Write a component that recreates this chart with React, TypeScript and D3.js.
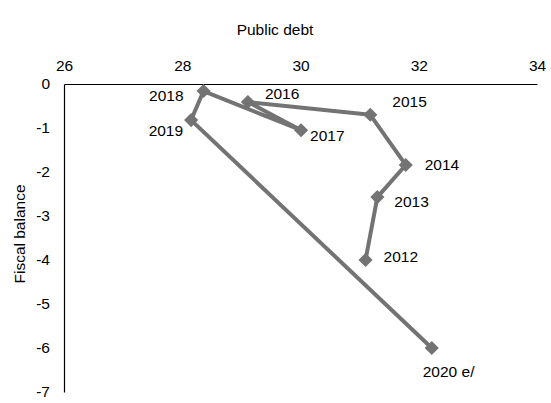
import React, { useEffect, useRef } from "react";
import * as d3 from "d3";

// Data
const years = ["2012", "2013", "2014", "2015", "2016", "2017", "2018", "2019", "2020 e/"];
const publicDebt = [31.1, 31.3, 31.78, 31.18, 29.11, 30.01, 28.36, 28.15, 32.22];
const fiscalBalance = [-4.0, -2.57, -1.84, -0.7, -0.41, -1.05, -0.16, -0.82, -6.0];
const xTicks = [26, 28, 30, 32, 34];
const yTicks = [0, -1, -2, -3, -4, -5, -6, -7];

// label placement around each marker: [dx, dy, anchor]
const labelOffsets: [number, number, string][] = [
  [18, -3, "start"],
  [17, 4, "start"],
  [19, 0, "start"],
  [22, -13, "start"],
  [17, -8, "start"],
  [9, 5, "start"],
  [-20, 5, "end"],
  [-8, 10, "end"],
  [-9, 24, "start"],
];

const WIDTH = 551;
const HEIGHT = 403;
const FONT = "'Liberation Sans', Arial, sans-serif";
const GREY = "#737373";

export default function App() {
  const svgRef = useRef<SVGSVGElement>(null);

  useEffect(() => {
    if (!svgRef.current) return;
    const svg = d3.select(svgRef.current);
    svg.selectAll("*").remove();

    const left = 64;
    const right = 537;
    const top = 84;
    const bottom = 392;

    const x = d3.scaleLinear().domain([26, 34]).range([left, right]);
    const y = d3.scaleLinear().domain([0, -7]).range([top, bottom]);

    const points = years.map((yr, i) => ({
      year: yr,
      debt: publicDebt[i],
      balance: fiscalBalance[i],
      offset: labelOffsets[i],
    }));

    // X axis along the top (no tick marks)
    const xAxis = svg.append("g")
      .attr("transform", `translate(0, ${top})`)
      .call(
        d3.axisTop(x).tickValues(xTicks).tickFormat(d3.format("d"))
          .tickSize(0).tickPadding(13).tickSizeOuter(0),
      );
    xAxis.select(".domain").attr("stroke", "#000").attr("stroke-width", 1.2);
    xAxis.selectAll("text")
      .attr("font-family", FONT)
      .attr("font-size", "15.5px")
      .attr("fill", "#000");

    // Y axis on the left
    const yAxis = svg.append("g")
      .attr("transform", `translate(${left}, 0)`)
      .call(
        d3.axisLeft(y).tickValues(yTicks).tickFormat((d) => String(d))
          .tickSize(0).tickPadding(14).tickSizeOuter(0),
      );
    yAxis.select(".domain").attr("stroke", "#000").attr("stroke-width", 1.2);
    yAxis.selectAll("text")
      .attr("font-family", FONT)
      .attr("font-size", "15.5px")
      .attr("fill", "#000");

    // Axis titles
    svg.append("text")
      .attr("x", 275)
      .attr("y", 30)
      .attr("dy", "0.35em")
      .attr("text-anchor", "middle")
      .attr("font-family", FONT)
      .attr("font-size", "15.5px")
      .text("Public debt");

    svg.append("text")
      .attr("transform", `translate(20, 234) rotate(-90)`)
      .attr("dy", "0.35em")
      .attr("text-anchor", "middle")
      .attr("font-family", FONT)
      .attr("font-size", "15.5px")
      .text("Fiscal balance");

    // Connected line
    const line = d3.line<typeof points[number]>()
      .x((d) => x(d.debt))
      .y((d) => y(d.balance));

    svg.append("path")
      .datum(points)
      .attr("d", line)
      .attr("fill", "none")
      .attr("stroke", GREY)
      .attr("stroke-width", 4)
      .attr("stroke-linejoin", "round");

    // Diamond markers
    const diamond = d3.symbol().type(d3.symbolSquare).size(100);
    svg.selectAll(".marker")
      .data(points)
      .enter()
      .append("path")
      .attr("class", "marker")
      .attr("d", diamond)
      .attr("transform", (d) => `translate(${x(d.debt)}, ${y(d.balance)}) rotate(45)`)
      .attr("fill", GREY);

    // Year labels
    svg.selectAll(".label")
      .data(points)
      .enter()
      .append("text")
      .attr("class", "label")
      .attr("x", (d) => x(d.debt) + d.offset[0])
      .attr("y", (d) => y(d.balance) + d.offset[1])
      .attr("dy", "0.35em")
      .attr("text-anchor", (d) => d.offset[2])
      .attr("font-family", FONT)
      .attr("font-size", "15.5px")
      .attr("fill", "#000")
      .text((d) => d.year);
  }, []);

  return (
    <svg
      ref={svgRef}
      width={WIDTH}
      height={HEIGHT}
      style={{ position: "absolute", left: 0, top: 0, background: "#fff" }}
    />
  );
}
